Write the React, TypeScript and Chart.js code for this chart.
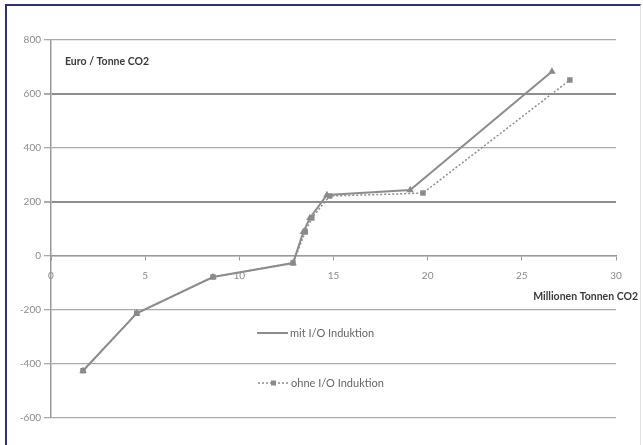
import React, { useEffect, useRef } from "react";
import { Chart, registerables } from "chart.js";

Chart.register(...registerables);

// ---- data ----
const seriesNames = ["mit I/O Induktion", "ohne I/O Induktion"];
const mitX = [1.7, 4.55, 8.6, 12.85, 13.4, 13.75, 14.65, 19.07, 26.6];
const mitY = [-425, -212, -78, -26, 89, 141, 226, 244, 683];
const ohneX = [1.7, 4.55, 8.6, 12.85, 13.5, 13.85, 14.8, 19.75, 27.55];
const ohneY = [-425, -212, -78, -26, 89, 141, 222, 233, 652];
const xTickValues = [0, 5, 10, 15, 20, 25, 30];
const yTickValues = [-600, -400, -200, 0, 200, 400, 600, 800];
const yTitle = "Euro / Tonne CO2";
const xTitle = "Millionen Tonnen CO2";

const FONT = "Lato, 'DejaVu Sans', sans-serif";
const LINE = "#8c8c8c";

const textPlugin = {
  id: "extraText",
  afterDraw(chart: any) {
    const ctx = chart.ctx;
    const area = chart.chartArea;
    ctx.save();
    // axis titles
    ctx.font = `bold 10.5px ${FONT}`;
    ctx.fillStyle = "#3a3a3a";
    ctx.textBaseline = "middle";
    ctx.textAlign = "left";
    ctx.fillText(yTitle, area.left + 14, area.top + 22);
    ctx.textAlign = "right";
    ctx.fillText(xTitle, area.right + 22, 297);

    // legend
    const legendPos = [
      { x: 257, y: 333 },
      { x: 258, y: 383 },
    ];
    chart.data.datasets.forEach((ds: any, i: number) => {
      const p = legendPos[i];
      ctx.save();
      ctx.strokeStyle = ds.borderColor;
      ctx.lineWidth = ds.borderWidth;
      ctx.setLineDash(ds.borderDash || []);
      ctx.beginPath();
      ctx.moveTo(p.x, p.y);
      ctx.lineTo(p.x + 31, p.y);
      ctx.stroke();
      ctx.restore();
      if (i === 1) {
        ctx.fillStyle = ds.pointBackgroundColor;
        ctx.fillRect(p.x + 13, p.y - 2.5, 5, 5);
      }
      ctx.font = `11px ${FONT}`;
      ctx.fillStyle = "#666";
      ctx.textAlign = "left";
      ctx.textBaseline = "middle";
      ctx.fillText(seriesNames[i], p.x + 33, p.y);
    });
    ctx.restore();
  },
};

export default function App() {
  const ref = useRef<HTMLCanvasElement | null>(null);

  useEffect(() => {
    if (!ref.current) return;
    const chart = new Chart(ref.current, {
      type: "scatter",
      data: {
        datasets: [
          {
            label: seriesNames[0],
            data: mitX.map((x, i) => ({ x, y: mitY[i] })),
            showLine: true,
            borderColor: LINE,
            backgroundColor: LINE,
            pointBackgroundColor: "#8a8a8a",
            pointBorderColor: "#8a8a8a",
            borderWidth: 2,
            pointStyle: "triangle",
            pointRadius: 2.3,
          },
          {
            label: seriesNames[1],
            data: ohneX.map((x, i) => ({ x, y: ohneY[i] })),
            showLine: true,
            borderColor: LINE,
            backgroundColor: LINE,
            pointBackgroundColor: "#8a8a8a",
            pointBorderColor: "#8a8a8a",
            borderWidth: 1.5,
            borderDash: [2, 2],
            pointStyle: "rect",
            pointRadius: 2.8,
          },
        ],
      },
      options: {
        responsive: false,
        animation: false,
        layout: { padding: { top: 40, right: 27, bottom: 27, left: 0 } },
        plugins: {
          legend: { display: false },
          tooltip: { enabled: false },
        },
        scales: {
          x: {
            type: "linear",
            min: 0,
            max: 30,
            position: { y: 0 } as any,
            afterBuildTicks: (s: any) => {
              s.ticks = xTickValues.map((v) => ({ value: v }));
            },
            ticks: {
              color: "#8a8a8a",
              font: { family: FONT, size: 10 },
              padding: 10,
              maxRotation: 0,
            },
            grid: {
              drawOnChartArea: false,
              drawTicks: true,
              tickLength: 4,
              tickColor: "#999",
            },
            border: { display: true, color: "#999", width: 1.5 },
          },
          y: {
            type: "linear",
            min: -600,
            max: 800,
            afterBuildTicks: (s: any) => {
              s.ticks = yTickValues.map((v) => ({ value: v }));
            },
            afterFit: (s: any) => {
              s.width = 51;
            },
            ticks: {
              color: "#8a8a8a",
              font: { family: FONT, size: 10 },
              padding: 3,
            },
            grid: {
              color: (c: any) =>
                c.tick && (c.tick.value === 600 || c.tick.value === 200) ? "#8e8e8e" : "#aaaaaa",
              lineWidth: (c: any) =>
                c.tick && (c.tick.value === 600 || c.tick.value === 200) ? 2 : 1.3,
              tickLength: 7,
              tickColor: "#aaa",
            },
            border: { display: true, color: "#999", width: 1.5 },
          },
        },
      },
      plugins: [textPlugin],
    });
    return () => chart.destroy();
  }, []);

  return (
    <div
      style={{
        position: "absolute",
        left: 0,
        top: 0,
        width: 643,
        height: 445,
        background: "#fff",
        overflow: "hidden",
      }}
    >
      <canvas ref={ref} width={643} height={445} style={{ display: "block" }} />
      <div
        style={{
          position: "absolute",
          left: 5,
          top: 4,
          width: 633,
          height: 460,
          borderLeft: "2px solid #2b2f86",
          borderTop: "2px solid #2b2f86",
          borderRight: "1px solid #e2e2e2",
          pointerEvents: "none",
        }}
      />
    </div>
  );
}
